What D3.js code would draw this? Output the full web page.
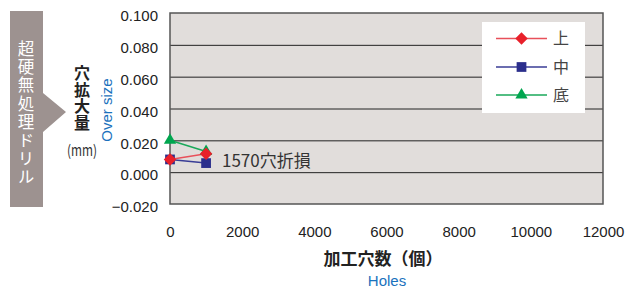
<!DOCTYPE html>
<html><head><meta charset="utf-8">
<script src="https://cdn.jsdelivr.net/npm/d3@7"></script>
<style>
body{margin:0;background:#fff;}
svg{display:block;}
</style></head>
<body>
<svg id="c" width="636" height="289"></svg>
<script>
const xValues = [0, 1000];
const seriesNames = ["上", "中", "底"];
const upperVals = [0.008, 0.0115];
const middleVals = [0.008, 0.0057];
const bottomVals = [0.020, 0.0130];
const yTicks = [-0.02, 0, 0.02, 0.04, 0.06, 0.08, 0.1];
const xTicks = [0, 2000, 4000, 6000, 8000, 10000, 12000];
const sideLabel = "超硬無処理ドリル";
const yTitle = "穴拡大量";
const yUnit = "(mm)";
const yTitleEn = "Over size";
const xTitle = "加工穴数（個）";
const xTitleEn = "Holes";
const note = "1570穴折損";

const svg = d3.select("#c");
const L = 170, R = 603, T = 13, B = 204;
const x = d3.scaleLinear().domain([0, 12000]).range([L, R]);
const y = d3.scaleLinear().domain([-0.02, 0.1]).range([B, T]);
const latin = "'Liberation Sans', Arial, sans-serif";
const cjk = "'Noto Sans CJK JP', sans-serif";

// side box with arrow
svg.append("path")
  .attr("d", `M10,11 H43 V93 L66,112 L43,132 V207 H10 Z`)
  .attr("fill", "#9d9290");
svg.append("text")
  .attr("x", 26).attr("y", 40)
  .style("writing-mode", "vertical-rl")
  .style("letter-spacing", "1.9px")
  .attr("font-family", cjk).attr("font-size", 16.5).attr("fill", "#fff")
  .text(sideLabel);

// y title vertical (single text element)
svg.append("text")
  .attr("x", 82).attr("y", 65)
  .style("writing-mode", "vertical-rl")
  .style("letter-spacing", "0.6px")
  .attr("font-family", cjk).attr("font-weight", "bold").attr("font-size", 16).attr("fill", "#222")
  .text(yTitle);
svg.append("text").attr("x", 82).attr("y", 151).attr("dy", "0.35em")
  .attr("text-anchor", "middle").attr("font-family", cjk).attr("font-size", 15)
  .attr("fill", "#333").attr("textLength", 30).attr("lengthAdjust", "spacingAndGlyphs").text(yUnit);
svg.append("text").attr("transform", "translate(112,110) rotate(-90)")
  .attr("text-anchor", "middle").attr("font-family", latin).attr("font-size", 15)
  .attr("fill", "#1a72bd").text(yTitleEn);

// plot background
svg.append("rect").attr("x", L).attr("y", T).attr("width", R - L).attr("height", B - T)
  .attr("fill", "#e1dddb");

// gridlines
const gridG = svg.append("g").attr("transform", `translate(${L},0)`)
  .call(d3.axisLeft(y).tickValues(yTicks.filter(v => v > -0.02 && v < 0.1)).tickSize(-(R - L)).tickFormat(""));
gridG.select(".domain").remove();
gridG.selectAll("line").attr("stroke", "#222").attr("stroke-width", 1);

// y tick labels
const yAx = svg.append("g").attr("transform", `translate(${L},3)`)
  .call(d3.axisLeft(y).tickValues(yTicks).tickSize(0).tickPadding(12).tickFormat(d3.format(".3f")));
yAx.select(".domain").remove();
yAx.selectAll("text").attr("font-family", latin).attr("font-size", 15).attr("fill", "#222");

// x tick labels
const xAx = svg.append("g").attr("transform", `translate(0,${B})`)
  .call(d3.axisBottom(x).tickValues(xTicks).tickSize(0).tickPadding(22).tickFormat(d3.format("d")));
xAx.select(".domain").remove();
xAx.selectAll("text").attr("font-family", latin).attr("font-size", 15).attr("fill", "#222");

// border
svg.append("rect").attr("x", L).attr("y", T).attr("width", R - L).attr("height", B - T)
  .attr("fill", "none").attr("stroke", "#555").attr("stroke-width", 1.5);

// axis titles
svg.append("text").attr("x", 383).attr("y", 259).attr("dy", "0.35em").attr("text-anchor", "middle")
  .attr("font-family", cjk).attr("font-weight", "bold").attr("font-size", 17).attr("fill", "#222").text(xTitle);
svg.append("text").attr("x", 387).attr("y", 281).attr("dy", "0.35em").attr("text-anchor", "middle")
  .attr("font-family", latin).attr("font-size", 15).attr("fill", "#1a72bd").text(xTitleEn);

// series
const series = [
  {name: seriesNames[0], vals: upperVals, color: "#e8202a", line: "#e8505a", sym: d3.symbolSquare, size: 78, rot: 45},
  {name: seriesNames[1], vals: middleVals, color: "#2b2e8c", line: "#3a3d96", sym: d3.symbolSquare, size: 95, rot: 0},
  {name: seriesNames[2], vals: bottomVals, color: "#00a64f", line: "#1aa85a", sym: d3.symbolTriangle, size: 65, rot: 0}
];
const lineGen = d3.line().x((d, i) => x(xValues[i])).y(d => y(d));
const order = [2, 1, 0];
order.forEach(k => {
  const s = series[k];
  svg.append("path").datum(s.vals).attr("d", lineGen).attr("fill", "none")
    .attr("stroke", s.line).attr("stroke-width", 1.5);
});
order.forEach(k => {
  const s = series[k];
  svg.selectAll(null).data(s.vals).enter().append("path")
    .attr("d", d3.symbol().type(s.sym).size(s.size))
    .attr("transform", (d, i) => `translate(${x(xValues[i])},${y(d)}) rotate(${s.rot})`)
    .attr("fill", s.color);
});

// annotation
svg.append("text").attr("x", 222).attr("y", 161).attr("dy", "0.35em")
  .attr("font-family", cjk).attr("font-size", 17).attr("fill", "#333").text(note);

// legend
svg.append("rect").attr("x", 482).attr("y", 22).attr("width", 103).attr("height", 91).attr("fill", "#fff");
const legY = [38.5, 67, 95];
series.forEach((s, i) => {
  svg.append("line").attr("x1", 496).attr("x2", 547).attr("y1", legY[i]).attr("y2", legY[i])
    .attr("stroke", s.line).attr("stroke-width", 1.5);
  svg.append("path").attr("d", d3.symbol().type(s.sym).size(s.size))
    .attr("transform", `translate(521.5,${legY[i]}) rotate(${s.rot})`)
    .attr("fill", s.color);
  svg.append("text").attr("x", 553).attr("y", legY[i]).attr("dy", "0.35em")
    .attr("font-family", cjk).attr("font-size", 16).attr("fill", "#444").text(s.name);
});
</script>
</body></html>
